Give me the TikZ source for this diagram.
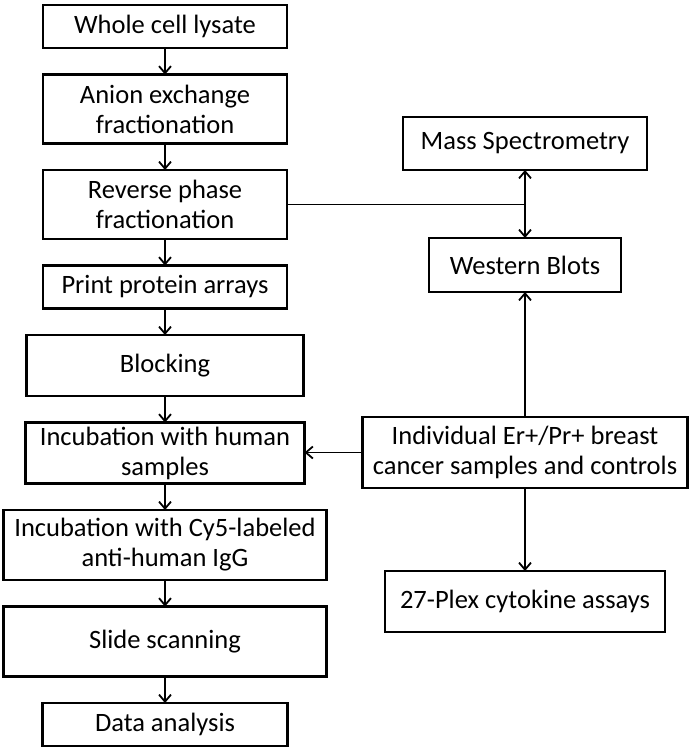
\documentclass[tikz,border=0pt]{standalone}
\usepackage{fontspec}
\setmainfont{Carlito}
\usetikzlibrary{positioning, arrows.meta}

\tikzset{
    >={Straight Barb[length=7pt, width=12pt]},
    box/.style={draw, line width=2.8pt, inner sep=0pt, outer sep=0pt, align=center,
        font=\fontsize{26.5}{30}\selectfont},
    link/.style={line width=1.8pt, ->}
}

\begin{document}
\begin{tikzpicture}[x=1pt, y=-1pt, node distance=26.5pt]
    \useasboundingbox (0,0) rectangle (691,750);

    \node[box, minimum width=244pt, minimum height=43pt] (lys) at (165,26.5) {Whole cell lysate};
    \node[box, minimum width=244pt, minimum height=69pt, below=of lys] (anion) {Anion exchange\\fractionation};
    \node[box, minimum width=244pt, minimum height=69pt, below=of anion] (rp) {Reverse phase\\fractionation};
    \node[box, minimum width=244pt, minimum height=43pt, below=of rp] (print) {Print protein arrays};
    \node[box, minimum width=277pt, minimum height=61pt, below=of print] (block) {Blocking};
    \node[box, minimum width=279pt, minimum height=61pt, below=of block] (inc) {Incubation with human\\samples};
    \node[box, minimum width=323pt, minimum height=70pt, below=of inc] (cy5) {Incubation with Cy5-labeled\\anti-human IgG};
    \node[box, minimum width=323pt, minimum height=70pt, below=of cy5] (scan) {Slide scanning};
    \node[box, minimum width=245pt, minimum height=43pt, below=of scan] (data) {Data analysis};

    \node[box, minimum width=244pt, minimum height=53pt] (ms) at (525,143.5) {Mass Spectrometry};
    \node[box, minimum width=192pt, minimum height=54pt, below=68pt of ms] (wb) {Western Blots};
    \node[box, minimum width=325pt, minimum height=71pt, below=125pt of wb] (ind) {Individual Er+/Pr+ breast\\cancer samples and controls};
    \node[box, minimum width=280pt, minimum height=61pt, below=83pt of ind] (plex) {27-Plex cytokine assays};

    \draw
        (lys) edge[link] (anion)
        (anion) edge[link] (rp)
        (rp) edge[link] (print)
        (print) edge[link] (block)
        (block) edge[link] (inc)
        (inc) edge[link] (cy5)
        (cy5) edge[link] (scan)
        (scan) edge[link] (data)
       ;

    \draw[line width=1.8pt] (rp.east) -- (rp.east -| ms.south);
    \draw
        (wb) edge[link, <->] (ms)
        (ind) edge[link] (wb)
        (ind.west) edge[link] (ind.west -| inc.east)
        (ind) edge[link] (plex)
       ;
\end{tikzpicture}
\end{document}
